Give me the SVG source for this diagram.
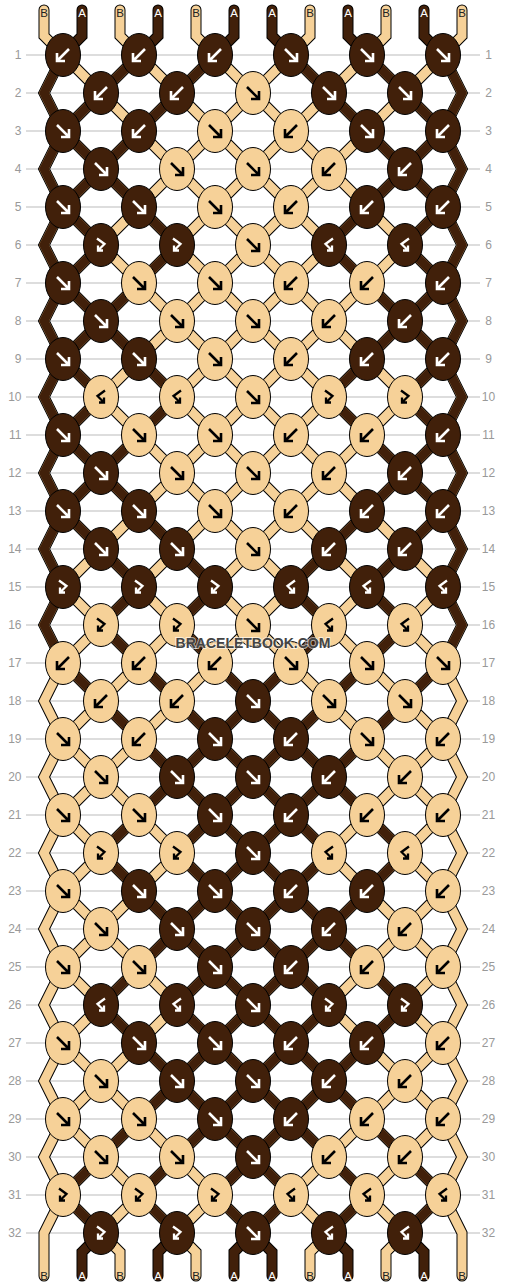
<svg xmlns="http://www.w3.org/2000/svg" width="506" height="1288" viewBox="0 0 506 1288">
<style>
.ln{fill:none;stroke:#bbb;stroke-width:1}
.rl{font-family:"Liberation Sans",Arial,sans-serif;font-size:12px;fill:#999}
.rr{font-family:"Liberation Sans",Arial,sans-serif;font-size:12px;fill:#999;text-anchor:middle}
.ol{fill:none;stroke:#000;stroke-width:11;stroke-linecap:round;stroke-linejoin:miter}
.lt{fill:none;stroke:#f6d198;stroke-width:9;stroke-linecap:round;stroke-linejoin:miter}
.dk{fill:none;stroke:#41200a;stroke-width:9;stroke-linecap:round;stroke-linejoin:miter}
.sl{font-family:"Liberation Sans",Arial,sans-serif;font-size:11.5px;text-anchor:middle}
.sa{fill:#fff}
.sb{fill:#222}
.wm{font-family:"Liberation Sans",Arial,sans-serif;font-size:14px;font-weight:bold;fill:#444;text-anchor:middle;stroke:#fff;stroke-width:2;stroke-opacity:0.6;paint-order:stroke}
</style>
<defs>
<path id="oIn" d="M63 0L101 38M139 0L101 38M139 0L177 38M215 0L177 38M215 0L253 38M291 0L253 38M291 0L329 38M367 0L329 38M367 0L405 38M443 0L405 38"/>
<path id="oAll" d="M63 0L101 38M139 0L101 38M139 0L177 38M215 0L177 38M215 0L253 38M291 0L253 38M291 0L329 38M367 0L329 38M367 0L405 38M443 0L405 38M63 0L44 38L63 76M443 0L462 38L443 76"/>
<path id="eAll" d="M101 0L63 38M101 0L139 38M177 0L139 38M177 0L215 38M253 0L215 38M253 0L291 38M329 0L291 38M329 0L367 38M405 0L367 38M405 0L443 38"/>
<path id="oP" d="M63 0L44 38L63 76M139 0L101 38M215 0L177 38M291 0L329 38M367 0L405 38M443 0L462 38L443 76"/>
<path id="oQ" d="M63 0L44 38L63 76M63 0L101 38M139 0L177 38M367 0L329 38M443 0L405 38M443 0L462 38L443 76"/>
<path id="oR" d="M63 0L44 38L63 76M63 0L101 38M139 0L101 38M367 0L405 38M443 0L405 38M443 0L462 38L443 76"/>
<path id="oP2" d="M63 0L101 38M139 0L177 38M215 0L253 38M291 0L253 38M367 0L329 38M443 0L405 38"/>
<path id="oQ2" d="M139 0L101 38M215 0L177 38M215 0L253 38M291 0L253 38M291 0L329 38M367 0L405 38"/>
<path id="oR2" d="M139 0L177 38M215 0L177 38M215 0L253 38M291 0L253 38M291 0L329 38M367 0L329 38"/>
<path id="eP" d="M101 0L139 38M177 0L215 38M329 0L291 38M405 0L367 38"/>
<path id="eQ" d="M101 0L63 38M177 0L139 38M329 0L367 38M405 0L443 38"/>
<path id="eR" d="M101 0L63 38M101 0L139 38M405 0L367 38M405 0L443 38"/>
<path id="eP2" d="M101 0L63 38M177 0L139 38M253 0L215 38M253 0L291 38M329 0L367 38M405 0L443 38"/>
<path id="eQ2" d="M101 0L139 38M177 0L215 38M253 0L215 38M253 0L291 38M329 0L291 38M405 0L367 38"/>
<path id="eR2" d="M177 0L139 38M177 0L215 38M253 0L215 38M253 0L291 38M329 0L291 38M329 0L367 38"/>
<path id="tB" d="M44 10V36L63 55M120 10V36L139 55M196 10V36L215 55M310 10V36L291 55M386 10V36L367 55M462 10V36L443 55M63 1195L44 1233V1276M101 1233L120 1252V1276M177 1233L196 1252V1276M329 1233L310 1252V1276M405 1233L386 1252V1276M443 1195L462 1233V1276"/>
<path id="tA" d="M82 10V36L63 55M158 10V36L139 55M234 10V36L215 55M272 10V36L291 55M348 10V36L367 55M424 10V36L443 55M101 1233L82 1252V1276M177 1233L158 1252V1276M253 1233L234 1252V1276M253 1233L272 1252V1276M329 1233L348 1252V1276M405 1233L424 1252V1276"/>
<g id="Af"><ellipse rx="17.5" ry="21.5" fill="#41200a" stroke="#000"/><path d="M-6-6L5 5M6-2V6H-2" fill="none" stroke="#fff" stroke-width="2.6"/></g>
<g id="Ab"><ellipse rx="17.5" ry="21.5" fill="#41200a" stroke="#000"/><path d="M6-6L-5 5M-6-2V6H2" fill="none" stroke="#fff" stroke-width="2.6"/></g>
<g id="Afb"><ellipse rx="17.5" ry="21.5" fill="#41200a" stroke="#000"/><path d="M-4-6.5L3.5-1L-3 5.5M-3 0.5V5.5H2" fill="none" stroke="#fff" stroke-width="2.3"/></g>
<g id="Abf"><ellipse rx="17.5" ry="21.5" fill="#41200a" stroke="#000"/><path d="M4-6.5L-3.5-1L3 5.5M3 0.5V5.5H-2" fill="none" stroke="#fff" stroke-width="2.3"/></g>
<g id="Bf"><ellipse rx="17.5" ry="21.5" fill="#f6d198" stroke="#000"/><path d="M-6-6L5 5M6-2V6H-2" fill="none" stroke="#000" stroke-width="2.6"/></g>
<g id="Bb"><ellipse rx="17.5" ry="21.5" fill="#f6d198" stroke="#000"/><path d="M6-6L-5 5M-6-2V6H2" fill="none" stroke="#000" stroke-width="2.6"/></g>
<g id="Bfb"><ellipse rx="17.5" ry="21.5" fill="#f6d198" stroke="#000"/><path d="M-4-6.5L3.5-1L-3 5.5M-3 0.5V5.5H2" fill="none" stroke="#000" stroke-width="2.3"/></g>
<g id="Bbf"><ellipse rx="17.5" ry="21.5" fill="#f6d198" stroke="#000"/><path d="M4-6.5L-3.5-1L3 5.5M3 0.5V5.5H-2" fill="none" stroke="#000" stroke-width="2.3"/></g>
</defs>
<rect width="506" height="1288" fill="#fff"/>
<g id="grid">
<path class="ln" d="M26 55H480M26 93H480M26 131H480M26 169H480M26 207H480M26 245H480M26 283H480M26 321H480M26 359H480M26 397H480M26 435H480M26 473H480M26 511H480M26 549H480M26 587H480M26 625H480M26 663H480M26 701H480M26 739H480M26 777H480M26 815H480M26 853H480M26 891H480M26 929H480M26 967H480M26 1005H480M26 1043H480M26 1081H480M26 1119H480M26 1157H480M26 1195H480M26 1233H480"/>
<g class="rl" text-anchor="end">
<text x="21.5" y="59.3">1</text><text x="21.5" y="97.3">2</text><text x="21.5" y="135.3">3</text><text x="21.5" y="173.3">4</text><text x="21.5" y="211.3">5</text><text x="21.5" y="249.3">6</text><text x="21.5" y="287.3">7</text><text x="21.5" y="325.3">8</text><text x="21.5" y="363.3">9</text><text x="21.5" y="401.3">10</text><text x="21.5" y="439.3">11</text><text x="21.5" y="477.3">12</text><text x="21.5" y="515.3">13</text><text x="21.5" y="553.3">14</text><text x="21.5" y="591.3">15</text><text x="21.5" y="629.3">16</text><text x="21.5" y="667.3">17</text><text x="21.5" y="705.3">18</text><text x="21.5" y="743.3">19</text><text x="21.5" y="781.3">20</text><text x="21.5" y="819.3">21</text><text x="21.5" y="857.3">22</text><text x="21.5" y="895.3">23</text><text x="21.5" y="933.3">24</text><text x="21.5" y="971.3">25</text><text x="21.5" y="1009.3">26</text><text x="21.5" y="1047.3">27</text><text x="21.5" y="1085.3">28</text><text x="21.5" y="1123.3">29</text><text x="21.5" y="1161.3">30</text><text x="21.5" y="1199.3">31</text><text x="21.5" y="1237.3">32</text>
</g>
<g class="rr">
<text x="488.5" y="59.3">1</text><text x="488.5" y="97.3">2</text><text x="488.5" y="135.3">3</text><text x="488.5" y="173.3">4</text><text x="488.5" y="211.3">5</text><text x="488.5" y="249.3">6</text><text x="488.5" y="287.3">7</text><text x="488.5" y="325.3">8</text><text x="488.5" y="363.3">9</text><text x="488.5" y="401.3">10</text><text x="488.5" y="439.3">11</text><text x="488.5" y="477.3">12</text><text x="488.5" y="515.3">13</text><text x="488.5" y="553.3">14</text><text x="488.5" y="591.3">15</text><text x="488.5" y="629.3">16</text><text x="488.5" y="667.3">17</text><text x="488.5" y="705.3">18</text><text x="488.5" y="743.3">19</text><text x="488.5" y="781.3">20</text><text x="488.5" y="819.3">21</text><text x="488.5" y="857.3">22</text><text x="488.5" y="895.3">23</text><text x="488.5" y="933.3">24</text><text x="488.5" y="971.3">25</text><text x="488.5" y="1009.3">26</text><text x="488.5" y="1047.3">27</text><text x="488.5" y="1085.3">28</text><text x="488.5" y="1123.3">29</text><text x="488.5" y="1161.3">30</text><text x="488.5" y="1199.3">31</text><text x="488.5" y="1237.3">32</text>
</g>
</g>
<g id="connectors">
<g class="ol">
<use href="#oAll" y="55"/><use href="#oAll" y="131"/><use href="#oAll" y="207"/><use href="#oAll" y="283"/><use href="#oAll" y="359"/><use href="#oAll" y="435"/><use href="#oAll" y="511"/><use href="#oAll" y="587"/><use href="#oAll" y="663"/><use href="#oAll" y="739"/><use href="#oAll" y="815"/><use href="#oAll" y="891"/><use href="#oAll" y="967"/><use href="#oAll" y="1043"/><use href="#oAll" y="1119"/><use href="#oIn" y="1195"/>
<use href="#eAll" y="93"/><use href="#eAll" y="169"/><use href="#eAll" y="245"/><use href="#eAll" y="321"/><use href="#eAll" y="397"/><use href="#eAll" y="473"/><use href="#eAll" y="549"/><use href="#eAll" y="625"/><use href="#eAll" y="701"/><use href="#eAll" y="777"/><use href="#eAll" y="853"/><use href="#eAll" y="929"/><use href="#eAll" y="1005"/><use href="#eAll" y="1081"/><use href="#eAll" y="1157"/>
<use href="#tA"/><use href="#tB"/>
</g>
<g class="lt">
<use href="#oAll" y="55"/><use href="#oAll" y="131"/><use href="#oAll" y="207"/><use href="#oAll" y="283"/><use href="#oAll" y="359"/><use href="#oAll" y="435"/><use href="#oAll" y="511"/><use href="#oAll" y="587"/><use href="#oAll" y="663"/><use href="#oAll" y="739"/><use href="#oAll" y="815"/><use href="#oAll" y="891"/><use href="#oAll" y="967"/><use href="#oAll" y="1043"/><use href="#oAll" y="1119"/><use href="#oIn" y="1195"/>
<use href="#eAll" y="93"/><use href="#eAll" y="169"/><use href="#eAll" y="245"/><use href="#eAll" y="321"/><use href="#eAll" y="397"/><use href="#eAll" y="473"/><use href="#eAll" y="549"/><use href="#eAll" y="625"/><use href="#eAll" y="701"/><use href="#eAll" y="777"/><use href="#eAll" y="853"/><use href="#eAll" y="929"/><use href="#eAll" y="1005"/><use href="#eAll" y="1081"/><use href="#eAll" y="1157"/>
<use href="#tB"/>
</g>
<g class="dk">
<use href="#oP" y="55"/><use href="#oR" y="131"/><use href="#oQ" y="207"/><use href="#oR" y="283"/><use href="#oQ" y="359"/><use href="#oR" y="435"/><use href="#oQ" y="511"/><use href="#oP" y="587"/><use href="#oP2" y="663"/><use href="#oR2" y="739"/><use href="#oQ2" y="815"/><use href="#oR2" y="891"/><use href="#oQ2" y="967"/><use href="#oR2" y="1043"/><use href="#oQ2" y="1119"/><use href="#oP2" y="1195"/>
<use href="#eQ" y="93"/><use href="#eR" y="169"/><use href="#eQ" y="245"/><use href="#eR" y="321"/><use href="#eQ" y="397"/><use href="#eR" y="473"/><use href="#eP" y="549"/><use href="#eP" y="625"/><use href="#eQ2" y="701"/><use href="#eR2" y="777"/><use href="#eQ2" y="853"/><use href="#eR2" y="929"/><use href="#eQ2" y="1005"/><use href="#eR2" y="1081"/><use href="#eP2" y="1157"/>
<use href="#tA"/>
</g>
</g>
<g id="knots">
<g id="k1-1"><use href="#Ab" x="63" y="55"/></g><g id="k1-2"><use href="#Ab" x="139" y="55"/></g><g id="k1-3"><use href="#Ab" x="215" y="55"/></g><g id="k1-4"><use href="#Af" x="291" y="55"/></g><g id="k1-5"><use href="#Af" x="367" y="55"/></g><g id="k1-6"><use href="#Af" x="443" y="55"/></g>
<g id="k2-1"><use href="#Ab" x="101" y="93"/></g><g id="k2-2"><use href="#Ab" x="177" y="93"/></g><g id="k2-3"><use href="#Bf" x="253" y="93"/></g><g id="k2-4"><use href="#Af" x="329" y="93"/></g><g id="k2-5"><use href="#Af" x="405" y="93"/></g>
<g id="k3-1"><use href="#Af" x="63" y="131"/></g><g id="k3-2"><use href="#Ab" x="139" y="131"/></g><g id="k3-3"><use href="#Bf" x="215" y="131"/></g><g id="k3-4"><use href="#Bb" x="291" y="131"/></g><g id="k3-5"><use href="#Af" x="367" y="131"/></g><g id="k3-6"><use href="#Ab" x="443" y="131"/></g>
<g id="k4-1"><use href="#Af" x="101" y="169"/></g><g id="k4-2"><use href="#Bf" x="177" y="169"/></g><g id="k4-3"><use href="#Bf" x="253" y="169"/></g><g id="k4-4"><use href="#Bb" x="329" y="169"/></g><g id="k4-5"><use href="#Ab" x="405" y="169"/></g>
<g id="k5-1"><use href="#Af" x="63" y="207"/></g><g id="k5-2"><use href="#Af" x="139" y="207"/></g><g id="k5-3"><use href="#Bf" x="215" y="207"/></g><g id="k5-4"><use href="#Bb" x="291" y="207"/></g><g id="k5-5"><use href="#Ab" x="367" y="207"/></g><g id="k5-6"><use href="#Ab" x="443" y="207"/></g>
<g id="k6-1"><use href="#Afb" x="101" y="245"/></g><g id="k6-2"><use href="#Afb" x="177" y="245"/></g><g id="k6-3"><use href="#Bf" x="253" y="245"/></g><g id="k6-4"><use href="#Abf" x="329" y="245"/></g><g id="k6-5"><use href="#Abf" x="405" y="245"/></g>
<g id="k7-1"><use href="#Af" x="63" y="283"/></g><g id="k7-2"><use href="#Bf" x="139" y="283"/></g><g id="k7-3"><use href="#Bf" x="215" y="283"/></g><g id="k7-4"><use href="#Bb" x="291" y="283"/></g><g id="k7-5"><use href="#Bb" x="367" y="283"/></g><g id="k7-6"><use href="#Ab" x="443" y="283"/></g>
<g id="k8-1"><use href="#Af" x="101" y="321"/></g><g id="k8-2"><use href="#Bf" x="177" y="321"/></g><g id="k8-3"><use href="#Bf" x="253" y="321"/></g><g id="k8-4"><use href="#Bb" x="329" y="321"/></g><g id="k8-5"><use href="#Ab" x="405" y="321"/></g>
<g id="k9-1"><use href="#Af" x="63" y="359"/></g><g id="k9-2"><use href="#Af" x="139" y="359"/></g><g id="k9-3"><use href="#Bf" x="215" y="359"/></g><g id="k9-4"><use href="#Bb" x="291" y="359"/></g><g id="k9-5"><use href="#Ab" x="367" y="359"/></g><g id="k9-6"><use href="#Ab" x="443" y="359"/></g>
<g id="k10-1"><use href="#Bbf" x="101" y="397"/></g><g id="k10-2"><use href="#Bbf" x="177" y="397"/></g><g id="k10-3"><use href="#Bf" x="253" y="397"/></g><g id="k10-4"><use href="#Bfb" x="329" y="397"/></g><g id="k10-5"><use href="#Bfb" x="405" y="397"/></g>
<g id="k11-1"><use href="#Af" x="63" y="435"/></g><g id="k11-2"><use href="#Bf" x="139" y="435"/></g><g id="k11-3"><use href="#Bf" x="215" y="435"/></g><g id="k11-4"><use href="#Bb" x="291" y="435"/></g><g id="k11-5"><use href="#Bb" x="367" y="435"/></g><g id="k11-6"><use href="#Ab" x="443" y="435"/></g>
<g id="k12-1"><use href="#Af" x="101" y="473"/></g><g id="k12-2"><use href="#Bf" x="177" y="473"/></g><g id="k12-3"><use href="#Bf" x="253" y="473"/></g><g id="k12-4"><use href="#Bb" x="329" y="473"/></g><g id="k12-5"><use href="#Ab" x="405" y="473"/></g>
<g id="k13-1"><use href="#Af" x="63" y="511"/></g><g id="k13-2"><use href="#Af" x="139" y="511"/></g><g id="k13-3"><use href="#Bf" x="215" y="511"/></g><g id="k13-4"><use href="#Bb" x="291" y="511"/></g><g id="k13-5"><use href="#Ab" x="367" y="511"/></g><g id="k13-6"><use href="#Ab" x="443" y="511"/></g>
<g id="k14-1"><use href="#Af" x="101" y="549"/></g><g id="k14-2"><use href="#Af" x="177" y="549"/></g><g id="k14-3"><use href="#Bf" x="253" y="549"/></g><g id="k14-4"><use href="#Ab" x="329" y="549"/></g><g id="k14-5"><use href="#Ab" x="405" y="549"/></g>
<g id="k15-1"><use href="#Afb" x="63" y="587"/></g><g id="k15-2"><use href="#Afb" x="139" y="587"/></g><g id="k15-3"><use href="#Afb" x="215" y="587"/></g><g id="k15-4"><use href="#Abf" x="291" y="587"/></g><g id="k15-5"><use href="#Abf" x="367" y="587"/></g><g id="k15-6"><use href="#Abf" x="443" y="587"/></g>
<g id="k16-1"><use href="#Bfb" x="101" y="625"/></g><g id="k16-2"><use href="#Bfb" x="177" y="625"/></g><g id="k16-3"><use href="#Bf" x="253" y="625"/></g><g id="k16-4"><use href="#Bbf" x="329" y="625"/></g><g id="k16-5"><use href="#Bbf" x="405" y="625"/></g>
<g id="k17-1"><use href="#Bb" x="63" y="663"/></g><g id="k17-2"><use href="#Bb" x="139" y="663"/></g><g id="k17-3"><use href="#Bb" x="215" y="663"/></g><g id="k17-4"><use href="#Bf" x="291" y="663"/></g><g id="k17-5"><use href="#Bf" x="367" y="663"/></g><g id="k17-6"><use href="#Bf" x="443" y="663"/></g>
<g id="k18-1"><use href="#Bb" x="101" y="701"/></g><g id="k18-2"><use href="#Bb" x="177" y="701"/></g><g id="k18-3"><use href="#Af" x="253" y="701"/></g><g id="k18-4"><use href="#Bf" x="329" y="701"/></g><g id="k18-5"><use href="#Bf" x="405" y="701"/></g>
<g id="k19-1"><use href="#Bf" x="63" y="739"/></g><g id="k19-2"><use href="#Bb" x="139" y="739"/></g><g id="k19-3"><use href="#Af" x="215" y="739"/></g><g id="k19-4"><use href="#Ab" x="291" y="739"/></g><g id="k19-5"><use href="#Bf" x="367" y="739"/></g><g id="k19-6"><use href="#Bb" x="443" y="739"/></g>
<g id="k20-1"><use href="#Bf" x="101" y="777"/></g><g id="k20-2"><use href="#Af" x="177" y="777"/></g><g id="k20-3"><use href="#Af" x="253" y="777"/></g><g id="k20-4"><use href="#Ab" x="329" y="777"/></g><g id="k20-5"><use href="#Bb" x="405" y="777"/></g>
<g id="k21-1"><use href="#Bf" x="63" y="815"/></g><g id="k21-2"><use href="#Bf" x="139" y="815"/></g><g id="k21-3"><use href="#Af" x="215" y="815"/></g><g id="k21-4"><use href="#Ab" x="291" y="815"/></g><g id="k21-5"><use href="#Bb" x="367" y="815"/></g><g id="k21-6"><use href="#Bb" x="443" y="815"/></g>
<g id="k22-1"><use href="#Bfb" x="101" y="853"/></g><g id="k22-2"><use href="#Bfb" x="177" y="853"/></g><g id="k22-3"><use href="#Af" x="253" y="853"/></g><g id="k22-4"><use href="#Bbf" x="329" y="853"/></g><g id="k22-5"><use href="#Bbf" x="405" y="853"/></g>
<g id="k23-1"><use href="#Bf" x="63" y="891"/></g><g id="k23-2"><use href="#Af" x="139" y="891"/></g><g id="k23-3"><use href="#Af" x="215" y="891"/></g><g id="k23-4"><use href="#Ab" x="291" y="891"/></g><g id="k23-5"><use href="#Ab" x="367" y="891"/></g><g id="k23-6"><use href="#Bb" x="443" y="891"/></g>
<g id="k24-1"><use href="#Bf" x="101" y="929"/></g><g id="k24-2"><use href="#Af" x="177" y="929"/></g><g id="k24-3"><use href="#Af" x="253" y="929"/></g><g id="k24-4"><use href="#Ab" x="329" y="929"/></g><g id="k24-5"><use href="#Bb" x="405" y="929"/></g>
<g id="k25-1"><use href="#Bf" x="63" y="967"/></g><g id="k25-2"><use href="#Bf" x="139" y="967"/></g><g id="k25-3"><use href="#Af" x="215" y="967"/></g><g id="k25-4"><use href="#Ab" x="291" y="967"/></g><g id="k25-5"><use href="#Bb" x="367" y="967"/></g><g id="k25-6"><use href="#Bb" x="443" y="967"/></g>
<g id="k26-1"><use href="#Abf" x="101" y="1005"/></g><g id="k26-2"><use href="#Abf" x="177" y="1005"/></g><g id="k26-3"><use href="#Af" x="253" y="1005"/></g><g id="k26-4"><use href="#Afb" x="329" y="1005"/></g><g id="k26-5"><use href="#Afb" x="405" y="1005"/></g>
<g id="k27-1"><use href="#Bf" x="63" y="1043"/></g><g id="k27-2"><use href="#Af" x="139" y="1043"/></g><g id="k27-3"><use href="#Af" x="215" y="1043"/></g><g id="k27-4"><use href="#Ab" x="291" y="1043"/></g><g id="k27-5"><use href="#Ab" x="367" y="1043"/></g><g id="k27-6"><use href="#Bb" x="443" y="1043"/></g>
<g id="k28-1"><use href="#Bf" x="101" y="1081"/></g><g id="k28-2"><use href="#Af" x="177" y="1081"/></g><g id="k28-3"><use href="#Af" x="253" y="1081"/></g><g id="k28-4"><use href="#Ab" x="329" y="1081"/></g><g id="k28-5"><use href="#Bb" x="405" y="1081"/></g>
<g id="k29-1"><use href="#Bf" x="63" y="1119"/></g><g id="k29-2"><use href="#Bf" x="139" y="1119"/></g><g id="k29-3"><use href="#Af" x="215" y="1119"/></g><g id="k29-4"><use href="#Ab" x="291" y="1119"/></g><g id="k29-5"><use href="#Bb" x="367" y="1119"/></g><g id="k29-6"><use href="#Bb" x="443" y="1119"/></g>
<g id="k30-1"><use href="#Bf" x="101" y="1157"/></g><g id="k30-2"><use href="#Bf" x="177" y="1157"/></g><g id="k30-3"><use href="#Af" x="253" y="1157"/></g><g id="k30-4"><use href="#Bb" x="329" y="1157"/></g><g id="k30-5"><use href="#Bb" x="405" y="1157"/></g>
<g id="k31-1"><use href="#Bfb" x="63" y="1195"/></g><g id="k31-2"><use href="#Bfb" x="139" y="1195"/></g><g id="k31-3"><use href="#Bfb" x="215" y="1195"/></g><g id="k31-4"><use href="#Bbf" x="291" y="1195"/></g><g id="k31-5"><use href="#Bbf" x="367" y="1195"/></g><g id="k31-6"><use href="#Bbf" x="443" y="1195"/></g>
<g id="k32-1"><use href="#Afb" x="101" y="1233"/></g><g id="k32-2"><use href="#Afb" x="177" y="1233"/></g><g id="k32-3"><use href="#Af" x="253" y="1233"/></g><g id="k32-4"><use href="#Abf" x="329" y="1233"/></g><g id="k32-5"><use href="#Abf" x="405" y="1233"/></g>
</g>
<g id="string-labels" class="sl">
<text class="sb" x="44" y="16.8">B</text><text class="sa" x="82" y="16.8">A</text><text class="sb" x="120" y="16.8">B</text><text class="sa" x="158" y="16.8">A</text><text class="sb" x="196" y="16.8">B</text><text class="sa" x="234" y="16.8">A</text><text class="sa" x="272" y="16.8">A</text><text class="sb" x="310" y="16.8">B</text><text class="sa" x="348" y="16.8">A</text><text class="sb" x="386" y="16.8">B</text><text class="sa" x="424" y="16.8">A</text><text class="sb" x="462" y="16.8">B</text>
<text class="sb" x="44" y="1280">B</text><text class="sa" x="82" y="1280">A</text><text class="sb" x="120" y="1280">B</text><text class="sa" x="158" y="1280">A</text><text class="sb" x="196" y="1280">B</text><text class="sa" x="234" y="1280">A</text><text class="sa" x="272" y="1280">A</text><text class="sb" x="310" y="1280">B</text><text class="sa" x="348" y="1280">A</text><text class="sb" x="386" y="1280">B</text><text class="sa" x="424" y="1280">A</text><text class="sb" x="462" y="1280">B</text>
</g>
<text id="watermark" class="wm" x="253" y="648">BRACELETBOOK.COM</text>
</svg>
